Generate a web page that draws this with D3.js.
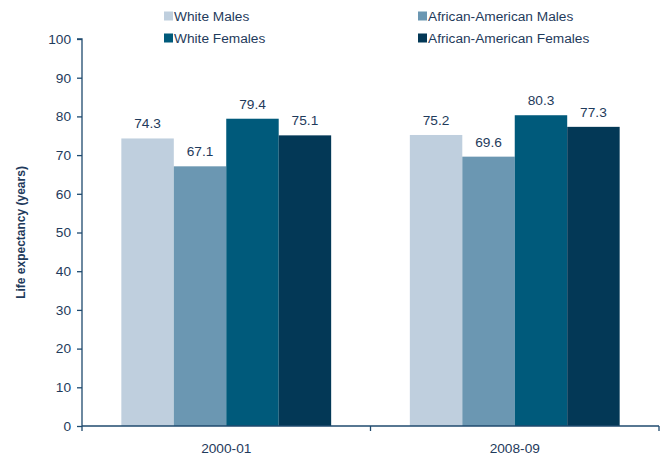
<!DOCTYPE html>
<html>
<head>
<meta charset="utf-8">
<script src="https://cdn.jsdelivr.net/npm/d3@7"></script>
<style>
	body { margin: 0; background: #fff; }
	text { font-family: "Liberation Sans", Arial, sans-serif; fill: #1f3b5c; }
</style>
</head>
<body>
<div class="chart"></div>
<script>
var periods = ["2000-01", "2008-09"];
var groups = ["White Males", "African-American Males", "White Females", "African-American Females"];
var whiteMales = [74.3, 75.2];
var aaMales = [67.1, 69.6];
var whiteFemales = [79.4, 80.3];
var aaFemales = [75.1, 77.3];
var yTicks = [0, 10, 20, 30, 40, 50, 60, 70, 80, 90, 100];

var colors = ["#bfcfde", "#6b97b2", "#005a7b", "#033856"];
var series = [whiteMales, aaMales, whiteFemales, aaFemales];

var width = 662, height = 456;
var margin = {left: 82, right: 3, top: 39, bottom: 30};
var fs = 13.7;

var svg = d3.select(".chart").append("svg")
	.attr("width", width)
	.attr("height", height);

var x = d3.scaleBand()
	.domain(periods)
	.range([margin.left, width - margin.right]);

var inner = d3.scaleBand()
	.domain(groups)
	.range([0, x.bandwidth()])
	.paddingOuter(0.75)
	.paddingInner(0);

var y = d3.scaleLinear()
	.domain([0, 100])
	.range([height - margin.bottom, margin.top]);

//bars
periods.forEach(function(p, i) {
	groups.forEach(function(g, j) {
		var v = series[j][i];
		svg.append("rect")
			.attr("x", x(p) + inner(g))
			.attr("y", y(v))
			.attr("width", inner.bandwidth())
			.attr("height", y(0) - y(v))
			.attr("fill", colors[j]);
		svg.append("text")
			.attr("x", x(p) + inner(g) + inner.bandwidth() / 2)
			.attr("y", y(v) - 10)
			.attr("text-anchor", "middle")
			.attr("font-size", fs)
			.text(v.toFixed(1));
	});
});

//y axis
var yAxis = svg.append("g")
	.attr("transform", "translate(" + margin.left + ",0)")
	.call(d3.axisLeft(y).tickValues(yTicks).tickSize(5).tickPadding(6));
yAxis.selectAll("text").attr("font-size", fs);

//x axis
var xAxis = svg.append("g")
	.attr("transform", "translate(0," + y(0) + ")")
	.call(d3.axisBottom(x).tickSize(0).tickPadding(17));
xAxis.selectAll("text").attr("font-size", fs);
xAxis.selectAll(".tick line").remove();
// boundary ticks between categories
[margin.left, x(periods[1]), width - margin.right].forEach(function(bx) {
	xAxis.append("line")
		.attr("x1", bx).attr("x2", bx)
		.attr("y1", 0).attr("y2", 5);
});

svg.selectAll(".domain, g line")
	.attr("stroke", "#1f4a6e")
	.attr("stroke-width", 1.3);
yAxis.select(".domain").attr("d", "M" + (-5) + "," + y(100) + "H0V" + y(0));
xAxis.select(".domain").attr("d", "M" + margin.left + ",0H" + (width - margin.right));

//y title
svg.append("text")
	.attr("transform", "translate(25," + ((y(0) + y(100)) / 2) + ") rotate(-90)")
	.attr("text-anchor", "middle")
	.attr("font-size", 12)
	.attr("font-weight", "bold")
	.text("Life expectancy (years)");

//legend
var legendPos = [[164, 16], [418, 16], [164, 38], [418, 38]];
groups.forEach(function(g, j) {
	var lg = svg.append("g")
		.attr("transform", "translate(" + legendPos[j][0] + "," + legendPos[j][1] + ")");
	lg.append("rect")
		.attr("x", 0).attr("y", -4.5)
		.attr("width", 9).attr("height", 9)
		.attr("fill", colors[j]);
	lg.append("text")
		.attr("x", 10)
		.attr("y", 0)
		.attr("dy", "0.35em")
		.attr("font-size", fs)
		.text(g);
});
</script>
</body>
</html>
